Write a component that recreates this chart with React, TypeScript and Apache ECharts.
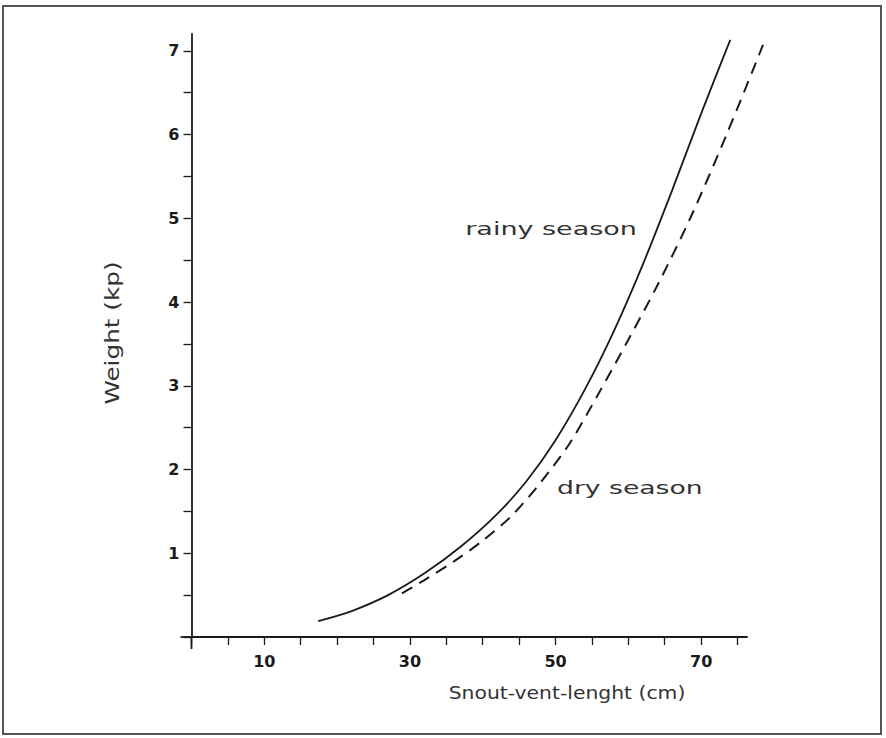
import { useEffect, useRef } from "react";
import * as echarts from "echarts";

// Rainy season curve (solid): snout-vent length (cm) vs weight (kp)
const rainyLength = [17.4, 22, 27, 32, 37, 42, 46, 50, 54, 58, 62, 66, 70, 74];
const rainyWeight = [0.19, 0.31, 0.5, 0.76, 1.08, 1.47, 1.86, 2.35, 2.95, 3.65, 4.45, 5.33, 6.25, 7.13];

// Dry season curve (dashed)
const dryLength = [28.9, 32, 36, 40, 44, 48, 52, 56, 60, 64, 68.5, 73.5, 78.5];
const dryWeight = [0.52, 0.68, 0.9, 1.15, 1.45, 1.85, 2.32, 2.92, 3.55, 4.2, 5.0, 6.0, 7.07];

// Axis ticks and labels
const xTickValues = [0, 5, 10, 15, 20, 25, 30, 35, 40, 45, 50, 55, 60, 65, 70, 75];
const xTickLabels = [10, 30, 50, 70];
const yTickValues = [0, 0.5, 1, 1.5, 2, 2.5, 3, 3.5, 4, 4.5, 5, 5.5, 6, 6.5, 7];
const yTickLabels = [1, 2, 3, 4, 5, 6, 7];

const curveNames = ["rainy season", "dry season"];
const xTitle = "Snout-vent-lenght (cm)";
const yTitle = "Weight (kp)";

const zip = (a: number[], b: number[]) => a.map((v, i) => [v, b[i]]);

export default function App() {
  const ref = useRef<HTMLDivElement>(null);
  useEffect(() => {
    if (!ref.current) return;
    const chart = echarts.init(ref.current, undefined, { renderer: "svg" });
    const ink = "#1a1a1a";
    const font = "DejaVu Sans";
    const xMax = 76.3;
    const xMaxWide = 79;
    const plotLeft = 191.5;
    const plotWidth = 555.5;
    const wideWidth = (plotWidth * xMaxWide) / xMax;
    const option: any = {
      animation: false,
      backgroundColor: "#ffffff",
      grid: [
        { left: plotLeft, width: plotWidth, top: 34, bottom: 101 },
        { left: plotLeft, width: wideWidth, top: 34, bottom: 101 },
      ],
      xAxis: [
        {
          type: "value",
          gridIndex: 0,
          min: 0,
          max: xMax,
          interval: 5,
          axisLine: { lineStyle: { color: ink, width: 1.8 } },
          axisTick: { show: true, customValues: xTickValues, length: 8, lineStyle: { color: ink, width: 1.3 } },
          axisLabel: {
            customValues: xTickLabels,
            formatter: (v: number) => (xTickLabels.includes(v) ? String(v) : ""),
            fontSize: 16,
            fontWeight: 600,
            color: ink,
            margin: 16,
            fontFamily: font,
          },
          splitLine: { show: false },
        },
        { type: "value", gridIndex: 1, min: 0, max: xMaxWide, show: false, splitLine: { show: false } },
      ],
      yAxis: [
        {
          type: "value",
          gridIndex: 0,
          min: 0,
          max: 7.2,
          interval: 0.5,
          axisLine: { lineStyle: { color: ink, width: 1.8 } },
          axisTick: { show: true, customValues: yTickValues, length: 8, lineStyle: { color: ink, width: 1.3 } },
          axisLabel: {
            customValues: yTickLabels,
            formatter: (v: number) => (yTickLabels.includes(v) ? String(v) : ""),
            fontSize: 16,
            fontWeight: 600,
            color: ink,
            margin: 12,
            fontFamily: font,
          },
          splitLine: { show: false },
        },
        { type: "value", gridIndex: 1, min: 0, max: 7.2, show: false, splitLine: { show: false } },
      ],
      series: [
        {
          name: curveNames[0],
          type: "line",
          xAxisIndex: 0,
          yAxisIndex: 0,
          data: zip(rainyLength, rainyWeight),
          smooth: 0.3,
          showSymbol: false,
          lineStyle: { color: ink, width: 1.8 },
        },
        {
          name: curveNames[1],
          type: "line",
          xAxisIndex: 1,
          yAxisIndex: 1,
          data: zip(dryLength, dryWeight),
          smooth: 0.3,
          showSymbol: false,
          lineStyle: { color: ink, width: 2, type: [12, 8] },
        },
      ],
    };
    chart.setOption(option);
    const origin = chart.convertToPixel({ gridIndex: 0 }, [0, 0]) as number[];
    const pRainy = chart.convertToPixel({ gridIndex: 0 }, [37.6, 4.88]) as number[];
    const pDry = chart.convertToPixel({ gridIndex: 0 }, [50.2, 1.78]) as number[];
    const labelStyle = { fontSize: 18, fill: "#333", fontFamily: font, align: "left", verticalAlign: "middle" };
    chart.setOption({
      graphic: [
        {
          type: "rect",
          shape: { x: 3, y: 6, width: 878, height: 728 },
          style: { fill: "none", stroke: "#555", lineWidth: 2 },
          silent: true,
        },
        {
          type: "line",
          shape: { x1: origin[0] - 11, y1: origin[1], x2: origin[0], y2: origin[1] },
          style: { stroke: ink, lineWidth: 1.8 },
        },
        {
          type: "line",
          shape: { x1: origin[0], y1: origin[1], x2: origin[0], y2: origin[1] + 12 },
          style: { stroke: ink, lineWidth: 1.8 },
        },
        {
          type: "text",
          x: 567,
          y: 693,
          scaleX: 1.13,
          style: { text: xTitle, fontSize: 18, fill: "#333", fontFamily: font, align: "center", verticalAlign: "middle" },
        },
        {
          type: "text",
          x: 113,
          y: 333,
          rotation: Math.PI / 2,
          scaleX: 1.3,
          style: { text: yTitle, fontSize: 19, fill: "#333", fontFamily: font, align: "center", verticalAlign: "middle" },
        },
        {
          type: "text",
          x: pRainy[0],
          y: pRainy[1],
          scaleX: 1.5,
          style: { ...labelStyle, text: curveNames[0] },
        },
        {
          type: "text",
          x: pDry[0],
          y: pDry[1],
          scaleX: 1.48,
          style: { ...labelStyle, text: curveNames[1] },
        },
      ],
    });
    return () => chart.dispose();
  }, []);
  return <div ref={ref} style={{ position: "absolute", left: 0, top: 0, width: 886, height: 738 }} />;
}
